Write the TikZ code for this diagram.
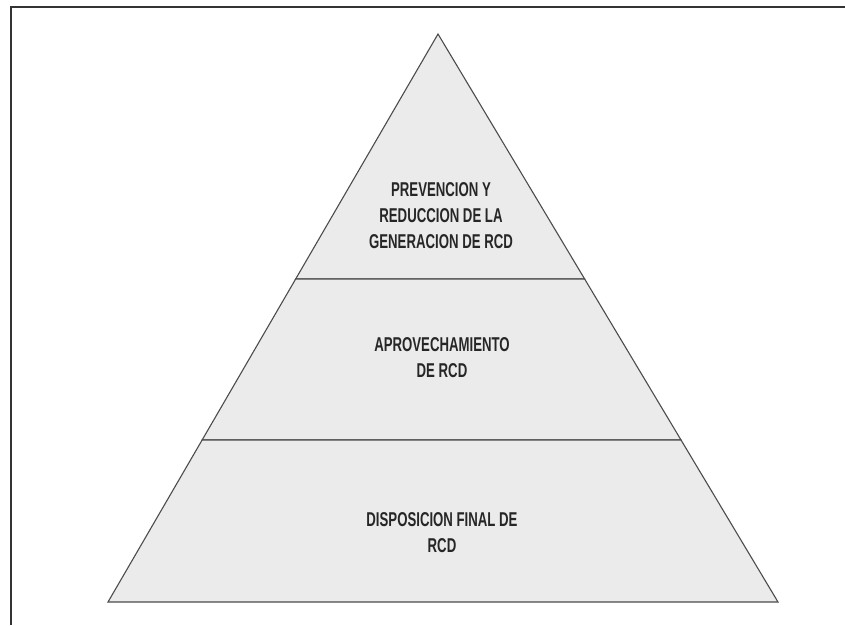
\documentclass[tikz,border=0pt]{standalone}
\usepackage{fontspec}
\usetikzlibrary{calc}
\newfontfamily\narrowfont[FakeStretch=0.66]{Liberation Sans}
\begin{document}
\begin{tikzpicture}[x=1pt, y=-1pt, line width=1.1pt, level/.style={draw=black!70,fill=black!8,line join=miter},tier text/.style={font=\narrowfont\bfseries\fontsize{20}{26}\selectfont,align=center,text=black!85}]
\useasboundingbox (0,0) rectangle (845,625);
% frame
\draw[line width=1.6pt,black!80] (11,625) -- (11,7) -- (845,7);
\coordinate (apex) at (438,34);
\coordinate (bl) at (108,602);
\coordinate (br) at (778,602);
\coordinate (l1) at ($(apex)!0.4313!(bl)$);
\coordinate (r1) at ($(apex)!0.4313!(br)$);
\coordinate (l2) at ($(apex)!0.7148!(bl)$);
\coordinate (r2) at ($(apex)!0.7148!(br)$);
\begin{scope}[every path/.style={level}]
\draw (apex) -- (r1) -- (l1) -- cycle;
\draw (l1) -- (r1) -- (r2) -- (l2) -- cycle;
\draw (l2) -- (r2) -- (br) -- (bl) -- cycle;
\end{scope}
\begin{scope}[every node/.style={tier text}]
\node (prevencion) at (441,216) {PREVENCION Y\\REDUCCION DE LA\\GENERACION DE RCD};
\node (aprovechamiento) at (442,358) {APROVECHAMIENTO\\DE RCD};
\node (disposicion) at (442,533) {DISPOSICION FINAL DE\\RCD};
\end{scope}
\end{tikzpicture}
\end{document}
